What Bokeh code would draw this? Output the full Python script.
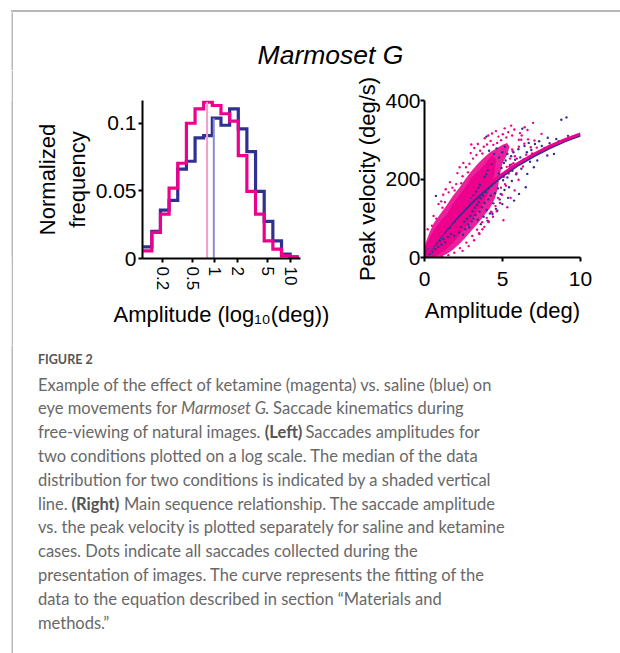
from bokeh.plotting import figure
from bokeh.layouts import row, column
from bokeh.models import Range1d, FixedTicker, NumeralTickFormatter, Spacer, Div
from bokeh.core.properties import value
from bokeh.embed import file_html
from bokeh.resources import INLINE

# ---------------- data ----------------
# Left panel: histogram of saccade amplitudes (log10 bins)
bin_edges_log10 = [-0.951, -0.836, -0.722, -0.607, -0.492, -0.377, -0.262, -0.148, -0.033,
                   0.082, 0.197, 0.312, 0.426, 0.541, 0.656, 0.771, 0.886, 1.000, 1.115]
ketamine_freq = [0.0057, 0.0193, 0.0328, 0.052, 0.0704, 0.100, 0.1106, 0.1156, 0.1131,
                 0.107, 0.1015, 0.076, 0.0496, 0.0328, 0.0131, 0.0069, 0.002, 0.001]
saline_freq = [0.0086, 0.020, 0.0358, 0.043, 0.066, 0.0719, 0.0891, 0.0909, 0.1037,
               0.0985, 0.1106, 0.0958, 0.079, 0.0496, 0.0274, 0.0131, 0.0032, 0.0012]
median_amp = {"ketamine": 0.79, "saline": 0.97}
median_height = {"ketamine": 0.1156, "saline": 0.1037}
hist_xticks = [0.2, 0.5, 1, 2, 5, 10]
hist_xtick_labels = ["0.2", "0.5", "1", "2", "5", "10"]
hist_yticks = [0, 0.05, 0.1]

# Right panel: main sequence
curve_amp = [0, 0.5, 1, 1.5, 2, 3, 4, 5, 6, 7, 8, 9, 10]
curve_vel_ketamine = [0, 29, 56, 81, 104, 146, 182, 213, 240, 263, 283, 300, 315]
curve_vel_saline = [0, 26, 52, 76, 98, 139, 176, 208, 236, 259, 279, 297, 312]

# outline of the dense ketamine cloud
ketamine_halo = [(0.0, 0), (0.05, 35), (0.3, 62), (0.6, 88), (1.0, 110), (1.4, 132), (1.8, 156),
                 (2.2, 176), (2.6, 199), (3.0, 220), (3.4, 238), (3.8, 254), (4.2, 268), (4.6, 278),
                 (5.0, 287), (5.3, 292), (5.45, 282), (5.3, 262), (5.0, 240), (4.8, 205),
                 (4.7, 176), (4.5, 150), (4.2, 126), (3.8, 106), (3.4, 86), (3.0, 68), (2.6, 50),
                 (2.2, 33), (1.8, 19), (1.4, 8), (1.0, 2), (0.6, 0)]
# outline of the saturated ketamine core
ketamine_core = [(0.0, 0), (0.10, 27), (0.42, 54), (0.74, 76), (1.05, 92), (1.48, 110),
                 (1.80, 134), (2.12, 151), (2.44, 168), (2.76, 185), (2.97, 200), (3.29, 213),
                 (3.61, 225), (3.93, 238), (4.14, 250), (4.36, 258), (4.55, 250), (4.45, 213),
                 (4.24, 187), (4.03, 162), (3.80, 143), (3.48, 124), (3.15, 106), (2.82, 89),
                 (2.50, 72), (2.18, 56), (1.85, 40), (1.42, 23), (0.98, 11), (0.55, 2), (0.1, 0)]

ketamine_points = [
    (0.2, 72), (0.48, 81), (0.58, 106), (0.76, 99), (0.9, 136), (1.07, 143), (1.15, 127),
    (1.31, 141), (1.36, 174), (1.55, 166), (1.63, 192), (1.79, 178), (1.93, 171), (2.03, 187),
    (2.11, 215), (2.36, 189), (2.44, 207), (2.49, 241), (2.66, 230), (2.79, 217), (2.88, 239),
    (2.96, 266), (3.11, 252), (3.19, 279), (3.33, 261), (3.42, 289), (3.57, 272), (3.71, 265),
    (3.8, 282), (3.86, 304), (4.01, 288), (4.09, 311), (4.24, 297), (4.33, 316), (4.41, 287),
    (4.58, 322), (4.66, 292), (4.74, 308), (4.91, 299), (5.02, 314), (5.14, 329), (5.25, 306),
    (5.37, 319), (5.62, 311), (5.76, 326), (6.12, 317), (6.23, 311), (6.42, 332), (6.96, 343),
    (6.05, 300), (6.6, 325), (1.2, 160), (2.25, 230), (3.0, 288), (5.55, 336),
    (1.12, 3), (1.53, 6), (1.91, 12), (2.27, 24), (2.44, 17), (2.68, 38), (2.83, 29), (3.06, 55),
    (3.18, 44), (3.37, 71), (3.52, 60), (3.69, 90), (3.83, 78), (3.99, 101), (4.12, 92), (4.27, 117),
    (4.39, 104), (4.55, 131), (4.63, 118), (4.71, 152), (4.84, 139), (4.9, 178), (4.97, 160),
    (5.08, 205), (5.16, 187), (5.27, 231), (5.39, 214), (5.48, 252), (5.58, 237), (5.66, 271),
    (5.79, 258), (5.06, 95), (5.31, 128), (5.52, 152), (5.78, 171), (6.03, 198), (5.22, 183),
    (6.31, 232), (5.92, 252), (6.52, 262), (6.81, 281), (7.05, 298), (6.64, 301), (3.71, 72),
    (5.62, 275), (6.05, 282), (6.2, 300), (5.45, 232), (6.9, 265), (7.2, 280), (7.5, 315), (5.7, 240),
    (6.4, 290), (3.5, 62), (4.3, 115), (4.1, 90), (5.9, 215), (6.15, 240)]

saline_points = [
    (0.08, 6), (0.18, 14), (0.27, 21), (0.33, 9), (0.44, 26), (0.52, 14), (0.61, 31), (0.69, 21),
    (0.79, 36), (0.88, 27), (0.98, 42), (1.09, 33), (1.2, 47), (1.33, 39), (0.73, 157), (1.5, 52),
    (1.7, 60), (1.9, 55),
    (2.21, 64), (2.34, 78), (2.47, 58), (2.55, 91), (2.62, 72), (2.73, 99), (2.81, 84), (2.87, 77),
    (2.93, 106), (3.02, 92), (3.08, 118), (3.14, 99), (3.22, 127), (3.27, 108), (3.36, 134),
    (3.41, 96), (3.48, 141), (3.53, 117), (3.59, 151), (3.61, 85), (3.68, 128), (3.74, 158),
    (3.79, 104), (3.86, 139), (3.92, 166), (3.98, 121), (4.04, 94), (4.09, 148), (4.13, 176),
    (4.19, 112), (4.25, 158), (4.31, 183), (4.36, 111), (4.41, 138), (4.47, 192), (4.52, 164),
    (4.58, 124), (4.63, 201), (4.67, 119), (4.71, 176), (4.77, 214), (4.82, 148), (4.89, 162),
    (4.94, 228), (4.99, 136), (5.04, 197), (5.09, 241), (5.13, 172), (5.2, 247), (5.26, 218),
    (5.31, 204), (5.36, 152), (5.42, 179), (5.48, 236), (5.55, 258), (5.6, 195), (5.63, 221),
    (5.7, 268), (5.74, 145), (5.81, 249), (5.88, 212), (5.95, 238), (6.02, 276), (6.06, 162),
    (6.14, 255), (6.21, 226), (6.27, 328), (6.33, 249), (6.41, 284), (6.49, 179), (6.56, 268),
    (6.59, 213), (6.68, 292), (6.77, 244), (6.85, 274), (7.01, 230), (7.08, 289), (7.23, 247),
    (7.35, 296), (7.52, 284), (7.7, 279), (7.87, 260), (8.02, 291), (8.3, 264), (8.45, 302),
    (8.77, 351), (9.1, 357), (8.6, 296), (9.2, 310), (7.9, 305), (3.97, 308), (4.14, 272),
    (4.46, 264), (4.78, 255), (4.99, 268), (5.31, 264), (5.15, 282), (4.62, 278),
    (1.6, 75), (1.95, 92), (2.3, 115), (2.65, 130), (3.0, 150), (3.3, 168), (3.55, 185),
    (3.85, 205), (4.05, 222), (4.3, 238), (2.15, 105), (2.85, 140), (3.45, 178), (3.95, 212),
    (2.5, 120), (3.15, 158)]

scatter_xticks = [0, 5, 10]
scatter_yticks = [0, 200, 400]

title_text = "Marmoset G"
caption_label = "FIGURE 2"
caption_lines = [
    [("Example of the effect of ketamine (magenta) vs. saline (blue) on", "normal", 37.5)],
    [("eye movements for ", "normal", 37.5), ("Marmoset G", "italic", 180.5),
     (". Saccade kinematics during", "normal", 264.5)],
    [("free-viewing of natural images. ", "normal", 37.5), ("(Left)", "bold", 264.3),
     (" Saccades amplitudes for", "normal", 305.0)],
    [("two conditions plotted on a log scale. The median of the data", "normal", 37.5)],
    [("distribution for two conditions is indicated by a shaded vertical", "normal", 37.5)],
    [("line. ", "normal", 37.5), ("(Right)", "bold", 71.0),
     (" Main sequence relationship. The saccade amplitude", "normal", 123.5)],
    [("vs. the peak velocity is plotted separately for saline and ketamine", "normal", 37.5)],
    [("cases. Dots indicate all saccades collected during the", "normal", 37.5)],
    [("presentation of images. The curve represents the fitting of the", "normal", 37.5)],
    [("data to the equation described in section \u201cMaterials and", "normal", 37.5)],
    [("methods.\u201d", "normal", 37.5)],
]

MAGENTA = "#EC008C"
BLUE = "#2E3192"
BORDER = "#b8b8b8"
FONT = "Liberation Sans"
CAP_FONT = "Lato"
NB = "\u00a0"

# ---------------- helpers ----------------
def blank(width, height, xr, yr):
    p = figure(width=width, height=height, x_range=Range1d(*xr), y_range=Range1d(*yr),
               output_backend="svg", toolbar_location=None,
               min_border_left=0, min_border_right=0, min_border_top=0, min_border_bottom=0,
               x_axis_location=None, y_axis_location=None)
    p.grid.visible = False
    p.outline_line_color = None
    p.background_fill_color = "white"
    p.border_fill_color = "white"
    return p

def rule(width, height):
    # a plain grey strip used as the frame rule of the figure panel
    p = blank(width, height, (0, 1), (0, 1))
    p.background_fill_color = BORDER
    p.border_fill_color = BORDER
    return p

def style_axis(ax, size):
    ax.axis_line_width = 2
    ax.axis_line_color = "black"
    ax.major_tick_line_width = 2
    ax.major_tick_line_color = "black"
    ax.major_tick_in = 0
    ax.major_tick_out = 4
    ax.minor_tick_line_color = None
    ax.major_label_text_font = FONT
    ax.major_label_text_font_size = size
    ax.major_label_text_color = "black"
    ax.axis_label_text_font = FONT
    ax.axis_label_text_font_size = "22px"
    ax.axis_label_text_font_style = "normal"
    ax.axis_label_text_color = "black"

def steps(edges, vals):
    xs, ys = [], []
    for i, v in enumerate(vals):
        xs += [10 ** edges[i], 10 ** edges[i + 1]]
        ys += [v, v]
    return xs, ys

# ---------------- title ----------------
ttl = blank(607, 58, (13, 620), (70, 12))
ttl.text(x=[330], y=[54], text=[title_text], text_font=value(FONT), text_font_style="italic",
         text_font_size="26.5px", text_align="center", text_baseline="middle",
         text_color="black")

# ---------------- left: histogram ----------------
pl = figure(x_axis_type="log", x_range=Range1d(10 ** -0.9602, 10 ** 1.1381),
            y_range=Range1d(0, 0.1168), frame_width=158, frame_height=158,
            min_border_left=129, min_border_right=46, min_border_top=30, min_border_bottom=87,
            output_backend="svg", toolbar_location=None)
pl.grid.visible = False
pl.outline_line_color = None
xs, ys = steps(bin_edges_log10, saline_freq)
pl.line(xs, ys, line_color=BLUE, line_width=3.2, line_join="miter")
xs, ys = steps(bin_edges_log10, ketamine_freq)
pl.line(xs, ys, line_color=MAGENTA, line_width=3.2, line_join="miter")
pl.segment(x0=[median_amp["ketamine"]], y0=[0], x1=[median_amp["ketamine"]],
           y1=[median_height["ketamine"]], line_color="#F59DC6", line_width=2)
pl.segment(x0=[median_amp["saline"]], y0=[0], x1=[median_amp["saline"]],
           y1=[median_height["saline"]], line_color="#8A8CCB", line_width=2)
style_axis(pl.xaxis[0], "17px")
style_axis(pl.yaxis[0], "21px")
pl.xaxis.ticker = FixedTicker(ticks=hist_xticks)
# labels padded with no-break spaces so that their starts line up (bottom-aligned)
longest = max(len(t.replace(".", "")) + 0.5 * t.count(".") for t in hist_xtick_labels)
pl.xaxis.major_label_overrides = {
    tk: lab + NB * int(round(2 * (longest - (len(lab.replace(".", "")) + 0.5 * lab.count(".")))))
    for tk, lab in zip(hist_xticks, hist_xtick_labels)}
pl.xaxis.major_label_orientation = "vertical"
pl.xaxis.major_label_standoff = 4
pl.xaxis.axis_label = "Amplitude (log\u2081\u2080(deg))"
pl.xaxis.axis_label_standoff = 9
pl.yaxis.ticker = FixedTicker(ticks=hist_yticks)
pl.yaxis.formatter = NumeralTickFormatter(format="0.[00]")
pl.yaxis.major_label_standoff = 2
pl.yaxis.axis_label = "Normalized\nfrequency"
pl.yaxis.axis_label_standoff = 3

# ---------------- right: main sequence ----------------
pr = figure(x_range=Range1d(0, 10), y_range=Range1d(0, 400), frame_width=156, frame_height=157,
            min_border_left=78, min_border_right=40, min_border_top=30, min_border_bottom=88,
            output_backend="svg", toolbar_location=None)
pr.grid.visible = False
pr.outline_line_color = None
pr.patch([a for a, v in ketamine_halo], [v for a, v in ketamine_halo],
         fill_color=MAGENTA, fill_alpha=0.88, line_color=None)
pr.patch([a for a, v in ketamine_core], [v for a, v in ketamine_core],
         fill_color=MAGENTA, line_color=MAGENTA, line_width=1)
pr.scatter([a for a, v in saline_points], [v for a, v in saline_points], size=2.4,
           fill_color=BLUE, line_color=None)
pr.scatter([a for a, v in ketamine_points], [v for a, v in ketamine_points], size=2.4,
           fill_color=MAGENTA, line_color=None)
pr.line(curve_amp, curve_vel_saline, line_color=BLUE, line_width=3)
pr.line(curve_amp, curve_vel_ketamine, line_color=MAGENTA, line_width=3)
style_axis(pr.xaxis[0], "21px")
style_axis(pr.yaxis[0], "21px")
pr.xaxis.ticker = FixedTicker(ticks=scatter_xticks)
pr.xaxis.major_label_standoff = 10
pr.xaxis.axis_label = "Amplitude (deg)"
pr.xaxis.axis_label_standoff = 9
pr.yaxis.ticker = FixedTicker(ticks=scatter_yticks)
pr.yaxis.major_label_standoff = 0
pr.yaxis.axis_label = "Peak velocity (deg/s)"
pr.yaxis.axis_label_standoff = 2

# ---------------- caption ----------------
cap = blank(607, 308, (13, 620), (653, 345))
cap.text(x=[37.5], y=[358.8], text=[caption_label], text_font=value(CAP_FONT),
         text_font_style="bold", text_font_size="12.5px", text_color="#555555",
         text_baseline="middle", text_align="left")
for i, segs in enumerate(caption_lines):
    ym = 390 + 23.8 * i - 5.9
    for txt, style, x0 in segs:
        cap.text(x=[x0], y=[ym], text=[txt], text_font=value(CAP_FONT), text_font_style=style,
                 text_font_size="16.5px", text_color="#686868" if style != "bold" else "#555555",
                 text_baseline="middle", text_align="left")

# top grey rule: a 2px block with no widget margin
top_rule = Div(text="", width=609, height=2, margin=(0, 0, 0, 0),
               styles={"background-color": BORDER, "overflow": "hidden"})

layout = column(
    Spacer(width=620, height=10, margin=(0, 0, 0, 0)),
    row(Spacer(width=11, height=2, margin=(0, 0, 0, 0)), top_rule),
    row(Spacer(width=11, height=58), rule(2, 58), ttl),
    row(Spacer(width=11, height=275), rule(2, 275), pl, pr),
    row(Spacer(width=11, height=308), rule(2, 308), cap),
)
open("out.html", "w").write(file_html(layout, INLINE))
